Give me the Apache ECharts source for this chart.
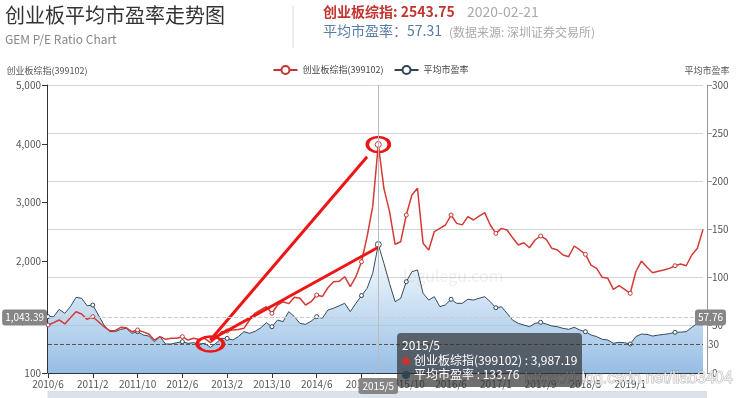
<!DOCTYPE html>
<html>
<head>
<meta charset="utf-8">
<script src="https://cdn.jsdelivr.net/npm/echarts@6/dist/echarts.min.js"></script>
<style>html,body{margin:0;padding:0;background:#fff;}#chart{width:741px;height:398px;}</style>
</head>
<body>
<div id="chart"></div>
<script>
// ---------- data ----------
const categories = [
  '2010/6','2010/7','2010/8','2010/9','2010/10','2010/11','2010/12',
  '2011/1','2011/2','2011/3','2011/4','2011/5','2011/6','2011/7','2011/8','2011/9','2011/10','2011/11','2011/12',
  '2012/1','2012/2','2012/3','2012/4','2012/5','2012/6','2012/7','2012/8','2012/9','2012/10','2012/11','2012/12',
  '2013/1','2013/2','2013/3','2013/4','2013/5','2013/6','2013/7','2013/8','2013/9','2013/10','2013/11','2013/12',
  '2014/1','2014/2','2014/3','2014/4','2014/5','2014/6','2014/7','2014/8','2014/9','2014/10','2014/11','2014/12',
  '2015/1','2015/2','2015/3','2015/4','2015/5','2015/6','2015/7','2015/8','2015/9','2015/10','2015/11','2015/12',
  '2016/1','2016/2','2016/3','2016/4','2016/5','2016/6','2016/7','2016/8','2016/9','2016/10','2016/11','2016/12','2016/12',
  '2017/1','2017/2','2017/3','2017/4','2017/5','2017/6','2017/7','2017/8','2017/9','2017/10','2017/11','2017/12',
  '2018/1','2018/2','2018/3','2018/4','2018/5','2018/6','2018/7','2018/8','2018/9','2018/10','2018/11','2018/12',
  '2019/1','2019/2','2019/3','2019/4','2019/5','2019/6','2019/7','2019/8','2019/9','2019/10','2019/11','2019/12',
  '2020/1','2020/2'
];
const gemIndex = [
  917,956,1002,934,1040,1143,1104,1013,1058,973,888,820,820,877,870,803,832,800,763,660,
  718,673,690,690,718,661,690,670,690,616,690,803,815,830,840,860,1002,1120,1172,1228,
  1116,1257,1313,1280,1390,1370,1257,1313,1427,1400,1550,1653,1660,1738,1568,1738,1993,2420,2930,3987.19,
  3242,2850,2290,2334,2788,3128,3242,2306,2193,2504,2560,2618,2788,2646,2620,2760,2703,2770,2828,2618,
  2476,2561,2533,2400,2278,2317,2232,2363,2431,2374,2221,2193,2108,2079,2261,2193,2119,1937,1881,1728,
  1711,1524,1585,1524,1456,1823,2005,1898,1806,1830,1852,1880,1925,1954,1925,2108,2221,2543.75
];
const avgPE = [
  58.7,58.7,66.3,62.2,69.1,78.8,77.8,70,70.8,60.4,50,43.1,43.1,45.5,46.5,41.3,43.1,39.6,38.5,32.6,
  37.9,30.2,30.2,31.6,32.6,30.9,31.6,30.2,30.9,26.7,30.9,36.1,36.1,34.4,37.9,43.1,41.3,43.5,47,52.4,
  48.2,55.2,53.5,63.9,58.7,51.7,50.7,54,58.7,57,65.6,67.4,70,72.6,63.9,72.6,80.6,88.2,103.8,133.76,
  114.2,93.4,74.3,77.8,95.1,105.5,107.3,83,76,79.5,69.1,71,76.8,72.6,72.6,76.8,76,77.8,79.5,74.3,
  68,69,62.2,55,51.7,50,48.2,51.7,52.8,51,49,48.2,46.5,45.5,47.6,44.8,43,39.6,37.9,35.1,
  34.4,30.9,32,31.5,30.2,37.9,40.6,40.2,38.5,39.5,40.2,41,42.4,42.6,43,47.6,51.7,57.31
];
const leftAxisRange = [100, 5000];
const rightAxisRange = [0, 300];
const rightAxisInterval = 50;
const peReferenceLine = 30;
const latestDate = '2020-02-21';
// hovered state shown in the reference
const hoverIndex = 59;          // 2015/5
const hoverLeftValue = 1043.39; // horizontal crosshair position on left axis
// hand-drawn annotation anchors [categoryIndex, value]
const annoStart = 29;           // 2012/11
const annoIndexLineEnd = [57, 3780];
const annoIndexLineStart = 661;
const annoPELineEnd = [59, 131];
const annoPELineStart = 34.4;
const annoLowCircle = [29, 30.2];

const FONT = "'Microsoft YaHei','Noto Sans CJK SC',sans-serif";
const RED = '#c23531', DARK = '#2f4554', ANNO = '#ee1515';
const SERIES_COLORS = [RED, DARK];
const fmt2 = v => Number(v).toLocaleString('en-US', {minimumFractionDigits: 2, maximumFractionDigits: 2});

const chart = echarts.init(document.getElementById('chart'), null, {renderer: 'canvas'});

const option = {
  animation: false,
  textStyle: {fontFamily: FONT},
  title: {
    text: '创业板平均市盈率走势图', subtext: 'GEM P/E Ratio Chart',
    left: 5, top: 5, padding: 0, itemGap: 8,
    textStyle: {fontSize: 20, fontWeight: 'normal', color: '#333', fontFamily: FONT},
    subtextStyle: {fontSize: 12, color: '#888', fontFamily: FONT}
  },
  graphic: [
    {type: 'line', shape: {x1: 293, y1: 5, x2: 293, y2: 48}, style: {stroke: '#ddd', lineWidth: 1}},
    {type: 'text', left: 323, top: 5, style: {text: '创业板综指: ' + gemIndex[gemIndex.length - 1].toFixed(2), fill: '#c23531', font: 'bold 14px ' + FONT}},
    {type: 'text', left: 467, top: 5, style: {text: latestDate, fill: '#aaa', font: '14px ' + FONT}},
    {type: 'text', left: 323, top: 24, style: {text: '平均市盈率：' + avgPE[avgPE.length - 1].toFixed(2), fill: '#587ca4', font: '14px ' + FONT}},
    {type: 'text', left: 449, top: 26, style: {text: '(数据来源: 深圳证券交易所)', fill: '#aaa', font: '12px ' + FONT}},
    {type: 'text', left: 403, top: 268, z: 100, silent: true, style: {text: 'legulegu.com', fill: 'rgba(120,120,120,0.12)', font: '16px ' + FONT}},
    {type: 'text', left: 524, top: 370, z: 100, silent: true, style: {text: 'https://blog.csdn.net/liao3404', fill: 'rgba(255,255,255,0.75)', stroke: 'rgba(120,120,120,0.55)', lineWidth: 1, font: '16px Arial, "Liberation Sans", sans-serif'}}
  ],
  legend: {
    top: 60, left: 'center', itemWidth: 24, itemHeight: 10, itemGap: 10,
    textStyle: {fontSize: 9, color: '#444', fontFamily: FONT},
    data: ['创业板综指(399102)', '平均市盈率']
  },
  grid: {left: 48, right: 38, top: 85, bottom: 25, containLabel: false, outerBoundsMode: 'none'},
  tooltip: {
    trigger: 'axis', alwaysShowContent: true, transitionDuration: 0,
    backgroundColor: 'rgba(50,50,50,0.7)', borderWidth: 0, padding: 5,
    textStyle: {color: '#fff', fontSize: 12, fontFamily: FONT},
    extraCssText: 'box-shadow:none;border-radius:4px;line-height:14.5px;',
    position: pt => [pt[0] + 19, pt[1] + 15],
    axisPointer: {
      type: 'line',
      lineStyle: {color: '#bbb', width: 1, type: 'solid'},
      label: {show: true, backgroundColor: '#868686', color: '#fff', fontSize: 10, padding: [3, 4], margin: 5, fontFamily: FONT}
    },
    formatter: params => {
      let s = params[0].axisValue;
      params.forEach(p => {
        s += '<br/><span style="display:inline-block;margin-right:4px;border-radius:8px;width:8px;height:8px;background-color:' +
          SERIES_COLORS[p.seriesIndex] + ';"></span>' + p.seriesName + ' : ' +
          Number(p.value).toLocaleString('en-US', {maximumFractionDigits: 2});
      });
      return s;
    }
  },
  xAxis: {
    type: 'category', data: categories, boundaryGap: false,
    axisLine: {show: true, lineStyle: {color: '#333'}},
    axisTick: {show: true, interval: 7, lineStyle: {color: '#333'}},
    axisLabel: {interval: 7, fontSize: 10, color: '#555', margin: 6, showMaxLabel: false, hideOverlap: false},
    splitLine: {show: false}
  },
  yAxis: [
    {
      type: 'value', name: '创业板综指(399102)', position: 'left', offset: 1,
      min: leftAxisRange[0], max: leftAxisRange[1], splitNumber: 5,
      nameGap: 10, nameTextStyle: {fontSize: 9, color: '#555', fontFamily: FONT},
      axisLine: {show: true, lineStyle: {color: '#333'}},
      axisTick: {show: true, lineStyle: {color: '#333'}},
      axisLabel: {fontSize: 10, color: '#555', margin: 6, formatter: v => v.toLocaleString('en-US')},
      splitLine: {show: false},
      axisPointer: {
        show: true, type: 'line', triggerTooltip: false,
        lineStyle: {color: '#ccc', type: 'dashed', width: 1},
        label: {show: true, backgroundColor: '#868686', color: '#fff', fontSize: 10, padding: [3, 3], margin: 0,
          formatter: p => fmt2(p.value), fontFamily: FONT}
      }
    },
    {
      type: 'value', name: '平均市盈率', position: 'right', offset: 4,
      min: rightAxisRange[0], max: rightAxisRange[1], interval: rightAxisInterval,
      nameGap: 10, nameTextStyle: {fontSize: 9, color: '#555', fontFamily: FONT},
      axisLine: {show: true, lineStyle: {color: '#999'}},
      axisTick: {show: true, lineStyle: {color: '#999'}},
      axisLabel: {fontSize: 10, color: '#555', margin: 5},
      splitLine: {show: true, lineStyle: {color: '#d4d4d4'}},
      axisPointer: {
        show: true, type: 'line', triggerTooltip: false,
        lineStyle: {color: '#ccc', type: 'dashed', width: 1},
        label: {show: true, backgroundColor: '#868686', color: '#fff', fontSize: 10, padding: [3, 3], margin: -12,
          formatter: p => fmt2(p.value), fontFamily: FONT}
      }
    }
  ],
  dataZoom: [{
    type: 'slider', xAxisIndex: 0, start: 0, end: 100,
    left: 47, right: 35, top: 391, height: 24,
    showDetail: false, showDataShadow: false, brushSelect: false, moveHandleSize: 0,
    handleSize: 0, handleStyle: {opacity: 0}, borderColor: '#ddd',
    fillerColor: 'rgba(167,183,204,0.4)', backgroundColor: 'rgba(47,69,84,0)'
  }],
  series: [
    {
      name: '创业板综指(399102)', type: 'line', yAxisIndex: 0, data: gemIndex, z: 3,
      symbol: 'circle', symbolSize: 4, showAllSymbol: 'auto',
      itemStyle: {color: '#fff', borderColor: RED, borderWidth: 1}, lineStyle: {color: RED, width: 1.5},
      emphasis: {lineStyle: {width: 1.5}},
      markLine: {
        silent: true, symbol: ['none', 'none'], animation: false,
        label: {show: false},
        data: [[
          {coord: [categories[annoStart], annoIndexLineStart]},
          {coord: [categories[annoIndexLineEnd[0]], annoIndexLineEnd[1]]}
        ]],
        lineStyle: {color: ANNO, width: 3, type: 'solid'}
      },
      markPoint: {
        silent: true, animation: false, label: {show: false},
        data: [{
          coord: [categories[hoverIndex], gemIndex[hoverIndex]], symbol: 'circle', symbolSize: [22, 15],
          itemStyle: {color: 'rgba(0,0,0,0)', borderColor: ANNO, borderWidth: 3}
        }]
      }
    },
    {
      name: '平均市盈率', type: 'line', yAxisIndex: 1, data: avgPE, z: 2,
      symbol: 'circle', symbolSize: 4, showAllSymbol: 'auto',
      itemStyle: {color: '#fff', borderColor: DARK, borderWidth: 1}, lineStyle: {color: DARK, width: 1},
      emphasis: {lineStyle: {width: 1}},
      areaStyle: {
        color: new echarts.graphic.LinearGradient(0, 0, 0, 1, [
          {offset: 0, color: '#e4ecf5'}, {offset: 1, color: '#6093c6'}
        ])
      },
      markLine: {
        silent: true, symbol: ['none', 'none'], animation: false,
        data: [
          {yAxis: peReferenceLine, lineStyle: {color: '#555', type: 'dashed', width: 1},
            label: {show: true, position: 'end', formatter: String(peReferenceLine), color: '#555', fontSize: 10}},
          [
            {coord: [categories[annoStart], annoPELineStart], lineStyle: {color: ANNO, width: 3, type: 'solid'}, label: {show: false}},
            {coord: [categories[annoPELineEnd[0]], annoPELineEnd[1]]}
          ]
        ]
      },
      markPoint: {
        silent: true, animation: false, label: {show: false},
        data: [{
          coord: [categories[annoLowCircle[0]], annoLowCircle[1]], symbol: 'circle', symbolSize: [26, 15],
          itemStyle: {color: 'rgba(0,0,0,0)', borderColor: ANNO, borderWidth: 3}
        }]
      }
    }
  ]
};

chart.setOption(option);

const px = chart.convertToPixel({xAxisIndex: 0}, categories[hoverIndex]);
const py = chart.convertToPixel({yAxisIndex: 0}, hoverLeftValue);
chart.dispatchAction({type: 'showTip', x: px, y: py});
</script>
</body>
</html>
